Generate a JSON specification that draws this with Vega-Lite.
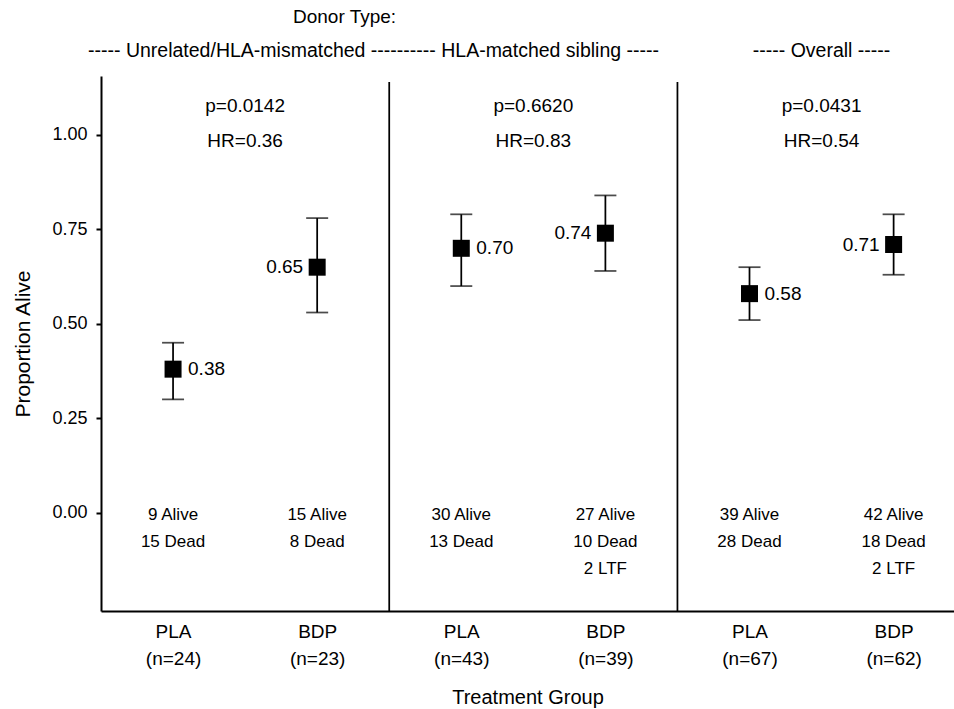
{
  "$schema": "https://vega.github.io/schema/vega-lite/v6.json",
  "width": 853,
  "height": 535,
  "autosize": {"type": "none"},
  "padding": {"left": 101, "top": 76, "right": 0, "bottom": 98},
  "config": {
    "view": {"stroke": null},
    "font": "Liberation Sans",
    "text": {"font": "Liberation Sans", "color": "black"},
    "axis": {
      "labelFont": "Liberation Sans",
      "titleFont": "Liberation Sans",
      "labelColor": "black",
      "titleColor": "black",
      "domainColor": "black",
      "tickColor": "black",
      "titleFontWeight": "normal",
      "grid": false
    },
    "axisX": {
      "ticks": false,
      "domainWidth": 2,
      "labelFontSize": 19,
      "labelLineHeight": 27,
      "labelPadding": 11,
      "labelAngle": 0,
      "labelBound": false,
      "labelFlush": false,
      "labelOverlap": false,
      "titleFontSize": 20,
      "titlePadding": 19
    },
    "axisY": {
      "tickSize": 5,
      "tickWidth": 2,
      "domainWidth": 2,
      "labelFontSize": 18,
      "labelPadding": 9,
      "titleFontSize": 21,
      "titlePadding": 18
    }
  },
  "datasets": {
    "groups": [
      {"grp": 1, "trt": "PLA", "donor": "Unrelated/HLA-mismatched", "est": 0.38, "lo": 0.30, "hi": 0.45, "counts": "9 Alive|15 Dead"},
      {"grp": 2, "trt": "BDP", "donor": "Unrelated/HLA-mismatched", "est": 0.65, "lo": 0.53, "hi": 0.78, "counts": "15 Alive|8 Dead"},
      {"grp": 3, "trt": "PLA", "donor": "HLA-matched sibling", "est": 0.70, "lo": 0.60, "hi": 0.79, "counts": "30 Alive|13 Dead"},
      {"grp": 4, "trt": "BDP", "donor": "HLA-matched sibling", "est": 0.74, "lo": 0.64, "hi": 0.84, "counts": "27 Alive|10 Dead|2 LTF"},
      {"grp": 5, "trt": "PLA", "donor": "Overall", "est": 0.58, "lo": 0.51, "hi": 0.65, "counts": "39 Alive|28 Dead"},
      {"grp": 6, "trt": "BDP", "donor": "Overall", "est": 0.71, "lo": 0.63, "hi": 0.79, "counts": "42 Alive|18 Dead|2 LTF"}
    ],
    "panels": [
      {"donor": "Unrelated/HLA-mismatched", "mid": 1.5, "stats": "p=0.0142|HR=0.36"},
      {"donor": "HLA-matched sibling", "mid": 3.5, "stats": "p=0.6620|HR=0.83"},
      {"donor": "Overall", "mid": 5.5, "stats": "p=0.0431|HR=0.54"}
    ],
    "dividers": [{"between": 2.5}, {"between": 4.5}]
  },
  "layer": [
    {
      "data": {"name": "groups"},
      "mark": {"type": "rule", "color": "black", "strokeWidth": 1.75},
      "encoding": {
        "x": {
          "field": "grp",
          "type": "quantitative",
          "title": "Treatment Group",
          "scale": {"domain": [0.5, 6.419], "nice": false, "zero": false},
          "axis": {"values": [1, 2, 3, 4, 5, 6], "labelExpr": "split(['', 'PLA|(n=24)', 'BDP|(n=23)', 'PLA|(n=43)', 'BDP|(n=39)', 'PLA|(n=67)', 'BDP|(n=62)'][datum.value], '|')"}
        },
        "y": {
          "field": "lo",
          "type": "quantitative",
          "title": "Proportion Alive",
          "scale": {"domain": [-0.2603, 1.1562], "nice": false, "zero": false},
          "axis": {"values": [0, 0.25, 0.5, 0.75, 1], "format": ".2f"}
        },
        "y2": {"field": "hi"}
      }
    },
    {
      "data": {"name": "dividers"},
      "mark": {"type": "rule", "color": "black", "strokeWidth": 1.75},
      "encoding": {
        "x": {"field": "between", "type": "quantitative", "title": "Treatment Group", "axis": {"values": [1, 2, 3, 4, 5, 6], "labelExpr": "split(['', 'PLA|(n=24)', 'BDP|(n=23)', 'PLA|(n=43)', 'BDP|(n=39)', 'PLA|(n=67)', 'BDP|(n=62)'][datum.value], '|')"}},
        "y": {"datum": 1.14, "type": "quantitative", "title": "Proportion Alive", "axis": {"values": [0, 0.25, 0.5, 0.75, 1], "format": ".2f"}},
        "y2": {"datum": -0.2603}
      }
    },
    {
      "data": {"name": "groups"},
      "mark": {"type": "tick", "orient": "horizontal", "color": "black", "size": 22, "thickness": 1.75},
      "encoding": {
        "x": {"field": "grp", "type": "quantitative", "title": "Treatment Group", "axis": {"values": [1, 2, 3, 4, 5, 6], "labelExpr": "split(['', 'PLA|(n=24)', 'BDP|(n=23)', 'PLA|(n=43)', 'BDP|(n=39)', 'PLA|(n=67)', 'BDP|(n=62)'][datum.value], '|')"}},
        "y": {"field": "lo", "type": "quantitative", "title": "Proportion Alive", "axis": {"values": [0, 0.25, 0.5, 0.75, 1], "format": ".2f"}}
      }
    },
    {
      "data": {"name": "groups"},
      "mark": {"type": "tick", "orient": "horizontal", "color": "black", "size": 22, "thickness": 1.75},
      "encoding": {
        "x": {"field": "grp", "type": "quantitative", "title": "Treatment Group", "axis": {"values": [1, 2, 3, 4, 5, 6], "labelExpr": "split(['', 'PLA|(n=24)', 'BDP|(n=23)', 'PLA|(n=43)', 'BDP|(n=39)', 'PLA|(n=67)', 'BDP|(n=62)'][datum.value], '|')"}},
        "y": {"field": "hi", "type": "quantitative", "title": "Proportion Alive", "axis": {"values": [0, 0.25, 0.5, 0.75, 1], "format": ".2f"}}
      }
    },
    {
      "data": {"name": "groups"},
      "mark": {"type": "point", "shape": "square", "filled": true, "color": "black", "opacity": 1, "size": 289},
      "encoding": {
        "x": {"field": "grp", "type": "quantitative", "title": "Treatment Group", "axis": {"values": [1, 2, 3, 4, 5, 6], "labelExpr": "split(['', 'PLA|(n=24)', 'BDP|(n=23)', 'PLA|(n=43)', 'BDP|(n=39)', 'PLA|(n=67)', 'BDP|(n=62)'][datum.value], '|')"}},
        "y": {"field": "est", "type": "quantitative", "title": "Proportion Alive", "axis": {"values": [0, 0.25, 0.5, 0.75, 1], "format": ".2f"}}
      }
    },
    {
      "data": {"name": "groups"},
      "transform": [{"filter": "datum.trt === 'PLA'"}],
      "mark": {"type": "text", "align": "left", "baseline": "middle", "dx": 15, "fontSize": 19},
      "encoding": {
        "x": {"field": "grp", "type": "quantitative", "title": "Treatment Group", "axis": {"values": [1, 2, 3, 4, 5, 6], "labelExpr": "split(['', 'PLA|(n=24)', 'BDP|(n=23)', 'PLA|(n=43)', 'BDP|(n=39)', 'PLA|(n=67)', 'BDP|(n=62)'][datum.value], '|')"}},
        "y": {"field": "est", "type": "quantitative", "title": "Proportion Alive", "axis": {"values": [0, 0.25, 0.5, 0.75, 1], "format": ".2f"}},
        "text": {"field": "est", "type": "quantitative", "format": ".2f"}
      }
    },
    {
      "data": {"name": "groups"},
      "transform": [{"filter": "datum.trt === 'BDP'"}],
      "mark": {"type": "text", "align": "right", "baseline": "middle", "dx": -14, "fontSize": 19},
      "encoding": {
        "x": {"field": "grp", "type": "quantitative", "title": "Treatment Group", "axis": {"values": [1, 2, 3, 4, 5, 6], "labelExpr": "split(['', 'PLA|(n=24)', 'BDP|(n=23)', 'PLA|(n=43)', 'BDP|(n=39)', 'PLA|(n=67)', 'BDP|(n=62)'][datum.value], '|')"}},
        "y": {"field": "est", "type": "quantitative", "title": "Proportion Alive", "axis": {"values": [0, 0.25, 0.5, 0.75, 1], "format": ".2f"}},
        "text": {"field": "est", "type": "quantitative", "format": ".2f"}
      }
    },
    {
      "data": {"name": "groups"},
      "mark": {"type": "text", "align": "center", "baseline": "alphabetic", "fontSize": 17, "lineBreak": "|", "lineHeight": 27},
      "encoding": {
        "x": {"field": "grp", "type": "quantitative", "title": "Treatment Group", "axis": {"values": [1, 2, 3, 4, 5, 6], "labelExpr": "split(['', 'PLA|(n=24)', 'BDP|(n=23)', 'PLA|(n=43)', 'BDP|(n=39)', 'PLA|(n=67)', 'BDP|(n=62)'][datum.value], '|')"}},
        "y": {"datum": -0.019, "type": "quantitative", "title": "Proportion Alive", "axis": {"values": [0, 0.25, 0.5, 0.75, 1], "format": ".2f"}},
        "text": {"field": "counts"}
      }
    },
    {
      "data": {"name": "panels"},
      "mark": {"type": "text", "align": "center", "baseline": "middle", "fontSize": 19, "lineBreak": "|", "lineHeight": 35.5},
      "encoding": {
        "x": {"field": "mid", "type": "quantitative", "title": "Treatment Group", "axis": {"values": [1, 2, 3, 4, 5, 6], "labelExpr": "split(['', 'PLA|(n=24)', 'BDP|(n=23)', 'PLA|(n=43)', 'BDP|(n=39)', 'PLA|(n=67)', 'BDP|(n=62)'][datum.value], '|')"}},
        "y": {"datum": 1.078, "type": "quantitative", "title": "Proportion Alive", "axis": {"values": [0, 0.25, 0.5, 0.75, 1], "format": ".2f"}},
        "text": {"field": "stats"}
      }
    },
    {
      "data": {"values": [{"heading": "Donor Type:"}]},
      "mark": {"type": "text", "align": "center", "baseline": "middle", "fontSize": 19},
      "encoding": {
        "x": {"datum": 2.19, "type": "quantitative", "title": "Treatment Group", "axis": {"values": [1, 2, 3, 4, 5, 6], "labelExpr": "split(['', 'PLA|(n=24)', 'BDP|(n=23)', 'PLA|(n=43)', 'BDP|(n=39)', 'PLA|(n=67)', 'BDP|(n=62)'][datum.value], '|')"}},
        "y": {"datum": 1.312, "type": "quantitative", "title": "Proportion Alive", "axis": {"values": [0, 0.25, 0.5, 0.75, 1], "format": ".2f"}},
        "text": {"field": "heading"}
      }
    },
    {
      "data": {"values": [{"heading": "----- Unrelated/HLA-mismatched ---------- HLA-matched sibling -----"}]},
      "mark": {"type": "text", "align": "center", "baseline": "middle", "fontSize": 19.5},
      "encoding": {
        "x": {"datum": 2.391, "type": "quantitative", "title": "Treatment Group", "axis": {"values": [1, 2, 3, 4, 5, 6], "labelExpr": "split(['', 'PLA|(n=24)', 'BDP|(n=23)', 'PLA|(n=43)', 'BDP|(n=39)', 'PLA|(n=67)', 'BDP|(n=62)'][datum.value], '|')"}},
        "y": {"datum": 1.2224, "type": "quantitative", "title": "Proportion Alive", "axis": {"values": [0, 0.25, 0.5, 0.75, 1], "format": ".2f"}},
        "text": {"field": "heading"}
      }
    },
    {
      "data": {"values": [{"heading": "----- Overall -----"}]},
      "mark": {"type": "text", "align": "center", "baseline": "middle", "fontSize": 19.5},
      "encoding": {
        "x": {"datum": 5.5, "type": "quantitative", "title": "Treatment Group", "axis": {"values": [1, 2, 3, 4, 5, 6], "labelExpr": "split(['', 'PLA|(n=24)', 'BDP|(n=23)', 'PLA|(n=43)', 'BDP|(n=39)', 'PLA|(n=67)', 'BDP|(n=62)'][datum.value], '|')"}},
        "y": {"datum": 1.2224, "type": "quantitative", "title": "Proportion Alive", "axis": {"values": [0, 0.25, 0.5, 0.75, 1], "format": ".2f"}},
        "text": {"field": "heading"}
      }
    }
  ]
}
